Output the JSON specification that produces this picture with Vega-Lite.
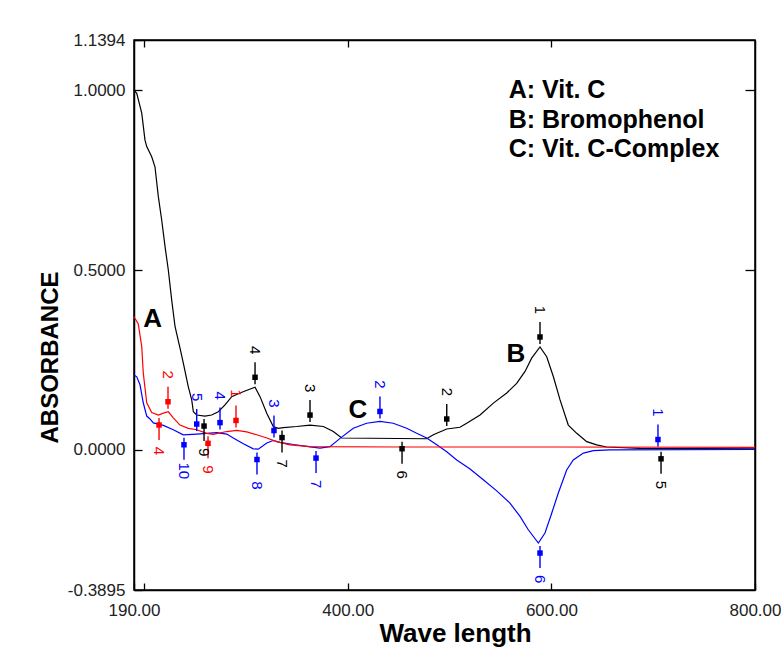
{
  "$schema": "https://vega.github.io/schema/vega-lite/v6.json",
  "width": 621,
  "height": 550,
  "autosize": "none",
  "padding": {"left": 134, "top": 40, "right": 26, "bottom": 67},
  "background": "white",
  "config": {
    "view": {"stroke": "black", "strokeWidth": 1.5},
    "font": "Liberation Sans",
    "axis": {"grid": false, "domainColor": "black", "tickColor": "black", "tickWidth": 1.3, "domainWidth": 1.5}
  },
  "resolve": {"axis": {"x": "independent", "y": "independent"}},
  "datasets": {
    "curves": [
      {"s":"B","x":190,"y":1.000},{"s":"B","x":192.7,"y":0.991},{"s":"B","x":197.6,"y":0.936},{"s":"B","x":200.8,"y":0.861},{"s":"B","x":202.5,"y":0.843},{"s":"B","x":207.4,"y":0.815},{"s":"B","x":210.6,"y":0.787},{"s":"B","x":213.9,"y":0.704},{"s":"B","x":217.2,"y":0.639},{"s":"B","x":220.5,"y":0.565},{"s":"B","x":223.7,"y":0.500},{"s":"B","x":227.0,"y":0.417},{"s":"B","x":230.3,"y":0.343},{"s":"B","x":235.2,"y":0.283},{"s":"B","x":238.4,"y":0.242},{"s":"B","x":243.3,"y":0.176},{"s":"B","x":246.7,"y":0.139},{"s":"B","x":248.3,"y":0.106},{"s":"B","x":251.6,"y":0.097},{"s":"B","x":259.7,"y":0.094},{"s":"B","x":266.3,"y":0.097},{"s":"B","x":272.8,"y":0.106},{"s":"B","x":279.4,"y":0.125},{"s":"B","x":286.0,"y":0.148},{"s":"B","x":294.1,"y":0.158},{"s":"B","x":302.3,"y":0.167},{"s":"B","x":308.9,"y":0.174},{"s":"B","x":313.8,"y":0.148},{"s":"B","x":320.4,"y":0.102},{"s":"B","x":326.8,"y":0.065},{"s":"B","x":331.7,"y":0.060},{"s":"B","x":336.7,"y":0.062},{"s":"B","x":349.8,"y":0.065},{"s":"B","x":362.9,"y":0.069},{"s":"B","x":376.0,"y":0.065},{"s":"B","x":385.8,"y":0.051},{"s":"B","x":394.0,"y":0.033},{"s":"B","x":477.5,"y":0.031},{"s":"B","x":484.0,"y":0.042},{"s":"B","x":497.2,"y":0.058},{"s":"B","x":510.2,"y":0.063},{"s":"B","x":516.8,"y":0.074},{"s":"B","x":529.9,"y":0.097},{"s":"B","x":543.0,"y":0.130},{"s":"B","x":556.1,"y":0.158},{"s":"B","x":565.9,"y":0.185},{"s":"B","x":574.1,"y":0.218},{"s":"B","x":580.6,"y":0.255},{"s":"B","x":588.8,"y":0.286},{"s":"B","x":595.4,"y":0.259},{"s":"B","x":601.9,"y":0.204},{"s":"B","x":608.5,"y":0.139},{"s":"B","x":616.6,"y":0.069},{"s":"B","x":624.9,"y":0.046},{"s":"B","x":634.7,"y":0.023},{"s":"B","x":644.5,"y":0.014},{"s":"B","x":654.3,"y":0.008},{"s":"B","x":687.0,"y":0.004},{"s":"B","x":800,"y":0.003},
      {"s":"C","x":190,"y":0.208},{"s":"C","x":192.7,"y":0.203},{"s":"C","x":195.9,"y":0.181},{"s":"C","x":199.1,"y":0.131},{"s":"C","x":202.5,"y":0.094},{"s":"C","x":205.7,"y":0.086},{"s":"C","x":209.0,"y":0.075},{"s":"C","x":218.8,"y":0.068},{"s":"C","x":228.6,"y":0.056},{"s":"C","x":238.4,"y":0.042},{"s":"C","x":251.6,"y":0.044},{"s":"C","x":261.4,"y":0.046},{"s":"C","x":271.2,"y":0.048},{"s":"C","x":281.1,"y":0.044},{"s":"C","x":287.5,"y":0.033},{"s":"C","x":297.4,"y":0.017},{"s":"C","x":307.2,"y":0.003},{"s":"C","x":312.1,"y":0.002},{"s":"C","x":320.4,"y":0.019},{"s":"C","x":326.8,"y":0.026},{"s":"C","x":333.4,"y":0.021},{"s":"C","x":346.5,"y":0.015},{"s":"C","x":359.6,"y":0.010},{"s":"C","x":372.7,"y":0.005},{"s":"C","x":382.5,"y":0.009},{"s":"C","x":392.4,"y":0.032},{"s":"C","x":405.4,"y":0.060},{"s":"C","x":418.5,"y":0.074},{"s":"C","x":431.6,"y":0.079},{"s":"C","x":444.6,"y":0.074},{"s":"C","x":457.9,"y":0.060},{"s":"C","x":467.7,"y":0.046},{"s":"C","x":477.5,"y":0.033},{"s":"C","x":487.4,"y":0.014},{"s":"C","x":497.2,"y":-0.005},{"s":"C","x":507.0,"y":-0.028},{"s":"C","x":520.1,"y":-0.053},{"s":"C","x":533.1,"y":-0.083},{"s":"C","x":546.3,"y":-0.114},{"s":"C","x":559.3,"y":-0.148},{"s":"C","x":569.2,"y":-0.185},{"s":"C","x":577.3,"y":-0.222},{"s":"C","x":587.2,"y":-0.259},{"s":"C","x":593.7,"y":-0.231},{"s":"C","x":600.3,"y":-0.176},{"s":"C","x":606.8,"y":-0.120},{"s":"C","x":615.0,"y":-0.056},{"s":"C","x":621.5,"y":-0.028},{"s":"C","x":631.4,"y":-0.009},{"s":"C","x":641.2,"y":-0.002},{"s":"C","x":657.6,"y":0.000},{"s":"C","x":800,"y":0.001},
      {"s":"A","x":190,"y":0.370},{"s":"A","x":194.2,"y":0.350},{"s":"A","x":197.6,"y":0.287},{"s":"A","x":199.1,"y":0.214},{"s":"A","x":202.5,"y":0.131},{"s":"A","x":207.4,"y":0.104},{"s":"A","x":213.9,"y":0.097},{"s":"A","x":218.8,"y":0.102},{"s":"A","x":223.7,"y":0.106},{"s":"A","x":228.6,"y":0.089},{"s":"A","x":235.2,"y":0.069},{"s":"A","x":243.3,"y":0.060},{"s":"A","x":251.6,"y":0.056},{"s":"A","x":261.4,"y":0.046},{"s":"A","x":267.9,"y":0.043},{"s":"A","x":281.1,"y":0.051},{"s":"A","x":290.9,"y":0.054},{"s":"A","x":300.7,"y":0.050},{"s":"A","x":310.5,"y":0.042},{"s":"A","x":320.4,"y":0.033},{"s":"A","x":330.2,"y":0.023},{"s":"A","x":343.2,"y":0.014},{"s":"A","x":362.9,"y":0.009},{"s":"A","x":450,"y":0.008},{"s":"A","x":600,"y":0.008},{"s":"A","x":800,"y":0.007}
    ],
    "markers": [
      {"s":"B","x":588.8,"y":0.286,"d":"up","n":"1"},{"s":"B","x":497.2,"y":0.058,"d":"up","n":"2"},{"s":"B","x":362.9,"y":0.069,"d":"up","n":"3"},{"s":"B","x":308.9,"y":0.174,"d":"up","n":"4"},{"s":"B","x":707.7,"y":0.003,"d":"down","n":"5"},{"s":"B","x":453.3,"y":0.031,"d":"down","n":"6"},{"s":"B","x":335.4,"y":0.062,"d":"down","n":"7"},{"s":"B","x":258.8,"y":0.094,"d":"down","n":"9"},
      {"s":"A","x":290.2,"y":0.054,"d":"up","n":"1"},{"s":"A","x":223.4,"y":0.106,"d":"up","n":"2"},{"s":"A","x":214.6,"y":0.097,"d":"down","n":"4"},{"s":"A","x":262.7,"y":0.046,"d":"down","n":"9"},
      {"s":"C","x":704.7,"y":0.001,"d":"up","n":"1"},{"s":"C","x":431.6,"y":0.079,"d":"up","n":"2"},{"s":"C","x":327.5,"y":0.026,"d":"up","n":"3"},{"s":"C","x":274.5,"y":0.048,"d":"up","n":"4"},{"s":"C","x":251.6,"y":0.044,"d":"up","n":"5"},{"s":"C","x":588.8,"y":-0.259,"d":"down","n":"6"},{"s":"C","x":368.8,"y":0.005,"d":"down","n":"7"},{"s":"C","x":310.8,"y":0.001,"d":"down","n":"8"},{"s":"C","x":239.1,"y":0.042,"d":"down","n":"10"}
    ],
    "legendText": [
      {"t":"A: Vit. C","x":558,"y":1.0},{"t":"B: Bromophenol","x":558,"y":0.918},{"t":"C: Vit. C-Complex","x":558,"y":0.836}
    ],
    "tags": [
      {"t":"A","x":208.2,"y":0.364},{"t":"B","x":565.2,"y":0.267},{"t":"C","x":410,"y":0.111}
    ]
  },
  "layer": [
    {
      "mark": {"type": "rule", "color": "black", "strokeWidth": 1.4},
      "encoding": {"y": {"datum": 0, "type": "quantitative", "axis": null}}
    },
    {
      "data": {"name": "curves"},
      "mark": {"type": "line", "strokeWidth": 1.2},
      "encoding": {
        "x": {"field": "x", "type": "quantitative", "scale": {"domain": [190, 800], "nice": false, "zero": false},
          "axis": {"orient": "bottom", "values": [190, 200, 400, 600, 800], "labelExpr": "datum.value == 200 ? '' : format(datum.value, '.2f')",
            "tickSize": -7, "labelPadding": 19, "labelFlush": false, "labelOverlap": false, "labelFontSize": 17, "labelColor": "#222",
            "title": "Wave length", "titleFontSize": 26, "titleFontWeight": "bold", "titleColor": "black", "titleX": 321, "titleY": 43, "titleBaseline": "middle", "titleAnchor": null}},
        "y": {"field": "y", "type": "quantitative", "scale": {"domain": [-0.3895, 1.1394], "nice": false, "zero": false},
          "axis": {"orient": "left", "values": [-0.3895, 0, 0.5, 1, 1.1394], "labelExpr": "replace(format(datum.value, '.4f'), '\u2212', '-')", "tickSize": -8, "labelPadding": 17, "labelFontSize": 17, "labelColor": "#222", "labelOverlap": false,
            "title": "ABSORBANCE", "titleFontSize": 24, "titleFontWeight": "bold", "titleColor": "black", "titleAngle": -90, "titleX": -84, "titleY": 317, "titleBaseline": "middle", "titleAlign": "center"}},
        "color": {"field": "s", "type": "nominal", "scale": {"domain": ["A", "B", "C"], "range": ["#ff0000", "#000000", "#0000ff"]}, "legend": null},
        "order": {"field": "x", "type": "quantitative"}
      }
    },
    {
      "data": {"name": "markers"},
      "transform": [{"filter": "datum.d == 'up'"}],
      "mark": {"type": "rule", "yOffset": -3, "y2Offset": -25, "strokeWidth": 1.4},
      "encoding": {
        "x": {"field": "x", "type": "quantitative", "axis": null},
        "y": {"field": "y", "type": "quantitative", "axis": null},
        "y2": {"field": "y"},
        "color": {"field": "s", "type": "nominal", "legend": null}
      }
    },
    {
      "data": {"name": "markers"},
      "transform": [{"filter": "datum.d == 'down'"}],
      "mark": {"type": "rule", "yOffset": 3, "y2Offset": 25, "strokeWidth": 1.4},
      "encoding": {
        "x": {"field": "x", "type": "quantitative", "axis": null},
        "y": {"field": "y", "type": "quantitative", "axis": null},
        "y2": {"field": "y"},
        "color": {"field": "s", "type": "nominal", "legend": null}
      }
    },
    {
      "data": {"name": "markers"},
      "transform": [{"filter": "datum.d == 'up'"}],
      "mark": {"type": "point", "shape": "square", "filled": true, "size": 30, "opacity": 1, "yOffset": -10},
      "encoding": {
        "x": {"field": "x", "type": "quantitative", "axis": null},
        "y": {"field": "y", "type": "quantitative", "axis": null},
        "color": {"field": "s", "type": "nominal", "legend": null}
      }
    },
    {
      "data": {"name": "markers"},
      "transform": [{"filter": "datum.d == 'down'"}],
      "mark": {"type": "point", "shape": "square", "filled": true, "size": 30, "opacity": 1, "yOffset": 10},
      "encoding": {
        "x": {"field": "x", "type": "quantitative", "axis": null},
        "y": {"field": "y", "type": "quantitative", "axis": null},
        "color": {"field": "s", "type": "nominal", "legend": null}
      }
    },
    {
      "data": {"name": "markers"},
      "transform": [{"filter": "datum.d == 'up'"}],
      "mark": {"type": "text", "angle": 90, "fontSize": 15, "yOffset": -37, "align": "center", "baseline": "middle"},
      "encoding": {
        "x": {"field": "x", "type": "quantitative", "axis": null},
        "y": {"field": "y", "type": "quantitative", "axis": null},
        "text": {"field": "n"},
        "color": {"field": "s", "type": "nominal", "legend": null}
      }
    },
    {
      "data": {"name": "markers"},
      "transform": [{"filter": "datum.d == 'down'"}],
      "mark": {"type": "text", "angle": 90, "fontSize": 15, "yOffset": 36, "align": "center", "baseline": "middle"},
      "encoding": {
        "x": {"field": "x", "type": "quantitative", "axis": null},
        "y": {"field": "y", "type": "quantitative", "axis": null},
        "text": {"field": "n"},
        "color": {"field": "s", "type": "nominal", "legend": null}
      }
    },
    {
      "data": {"name": "tags"},
      "mark": {"type": "text", "fontSize": 26, "fontWeight": "bold", "color": "black", "align": "center", "baseline": "middle"},
      "encoding": {
        "x": {"field": "x", "type": "quantitative", "axis": null},
        "y": {"field": "y", "type": "quantitative", "axis": null},
        "text": {"field": "t"}
      }
    },
    {
      "data": {"name": "legendText"},
      "mark": {"type": "text", "fontSize": 25, "fontWeight": "bold", "color": "black", "align": "left", "baseline": "middle"},
      "encoding": {
        "x": {"field": "x", "type": "quantitative",
          "axis": {"orient": "top", "values": [200, 400, 600], "labels": false, "tickSize": -7, "title": null}},
        "y": {"field": "y", "type": "quantitative",
          "axis": {"orient": "right", "values": [0.5, 1], "labels": false, "tickSize": -10, "title": null}},
        "text": {"field": "t"}
      }
    }
  ]
}
